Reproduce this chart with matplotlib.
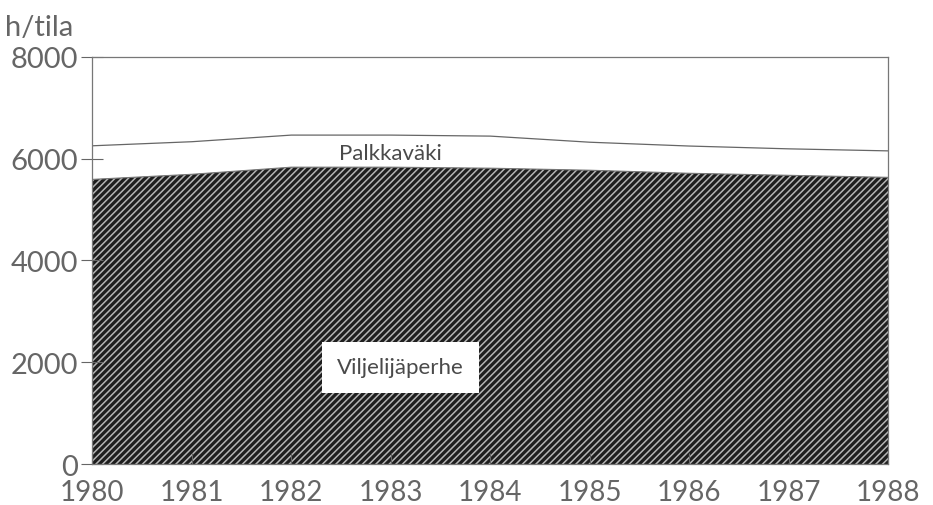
import matplotlib.pyplot as plt
import numpy as np

plt.rcParams['hatch.color'] = '#b4b4b4'
plt.rcParams['hatch.linewidth'] = 1.1
plt.rcParams['font.family'] = ['Lato', 'DejaVu Sans']

vuodet = [1980, 1981, 1982, 1983, 1984, 1985, 1986, 1987, 1988]
viljelijaperhe = [5590, 5690, 5830, 5830, 5810, 5770, 5710, 5670, 5630]
palkkavaki_yht = [6250, 6330, 6460, 6460, 6440, 6320, 6245, 6190, 6150]

fig = plt.figure(figsize=(9.33, 5.06), dpi=100)
ax = fig.add_axes([0.099, 0.081, 0.853, 0.805])

ax.fill_between(vuodet, 0, viljelijaperhe, facecolor='#1e1e1e', edgecolor='#b4b4b4',
                hatch='/////', linewidth=0)
ax.plot(vuodet, viljelijaperhe, color='#777777', lw=0.8)
ax.plot(vuodet, palkkavaki_yht, color='#666666', lw=0.9)

ax.text(1983.0, 6100, "Palkkaväki", fontsize=16, color='#4a4a4a', ha='center', va='center')
ax.text(1983.1, 1900, "Viljelijäperhe", fontsize=16, color='#4a4a4a', ha='center', va='center',
        bbox=dict(facecolor='white', edgecolor='none', pad=11))

ax.set_xlim(1980, 1988)
ax.set_ylim(0, 8000)
ax.set_xticks(vuodet)
ax.set_yticks([0, 2000, 4000, 6000, 8000])
ax.tick_params(axis='x', direction='in', length=8, labelsize=20, colors='#666666', pad=11)
ax.tick_params(axis='y', direction='inout', length=16, labelsize=21, colors='#666666', pad=2)
for s in ax.spines.values():
    s.set_color('#777777')
    s.set_linewidth(0.9)

fig.text(0.005, 0.918, "h/tila", fontsize=21, color='#666666', ha='left', va='bottom')

fig.savefig("out.png", dpi=100)
